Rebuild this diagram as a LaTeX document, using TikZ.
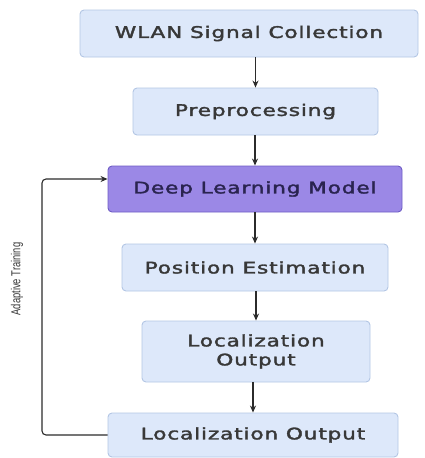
\documentclass[tikz,border=0pt]{standalone}
\usepackage{fontspec}
\usepackage{graphicx}
\newfontfamily\boxfont[FakeBold=1.8,LetterSpace=4]{DejaVu Sans}
\newfontfamily\labelfont{Liberation Sans}
\usetikzlibrary{arrows.meta,calc}
\newcommand\wtxt[1]{\scalebox{1.35}[1]{#1}}
\definecolor{boxfill}{HTML}{DDE8FA}
\definecolor{boxline}{HTML}{B3C6E4}
\definecolor{purpfill}{HTML}{9B88E6}
\definecolor{purpline}{HTML}{6E5CC4}
\definecolor{txt}{HTML}{383838}
\definecolor{purptxt}{HTML}{2A2450}
\definecolor{arr}{HTML}{2B2B2B}
\tikzset{
  stagebox/.style={draw=boxline, fill=boxfill, line width=0.9pt, rounded corners=4pt,
    inner sep=0pt, align=center, text=txt, font=\boxfont\fontsize{16}{19}\selectfont},
  keybox/.style={stagebox, draw=purpline, fill=purpfill, text=purptxt},
  flow/.style={draw=arr, line width=1.1pt, -{Stealth[length=7pt,width=6pt]}}
}
\begin{document}
\begin{tikzpicture}[x=1pt,y=-1pt]
\useasboundingbox (0,0) rectangle (425,458);
\node[stagebox, minimum width=338pt, minimum height=47pt] (b1) at (249,33.5) {\wtxt{WLAN Signal Collection}};
\node[stagebox, minimum width=245pt, minimum height=47pt] (b2) at (255.5,111.5) {\wtxt{Preprocessing}};
\node[keybox, minimum width=294pt, minimum height=46pt] (b3) at (255,189) {\wtxt{Deep Learning Model}};
\node[stagebox, minimum width=266pt, minimum height=47pt] (b4) at (255,267.5) {\wtxt{Position Estimation}};
\node[stagebox, minimum width=228pt, minimum height=61pt] (b5) at (256,351.5) {\wtxt{Localization}\\\wtxt{Output}};
\node[stagebox, minimum width=290pt, minimum height=44pt] (b6) at (253,435) {\wtxt{Localization Output}};
\draw[flow] (b1.south -| b2.north) -- (b2.north);
\draw[flow] (b2.south -| b3.north) -- (b3.north);
\draw[flow] (b3.south -| b4.north) -- (b4.north);
\draw[flow] (b4.south -| b5.north) -- (b5.north);
\draw[flow] (b5.south -| b6.north) -- (b6.north);
\coordinate (fb) at (42,435);
\coordinate (ft) at (42,179);
\draw[flow, rounded corners=4pt] (b6.west) -- (fb) -- (ft) -- (ft -| b3.west);
\node[rotate=90, text=txt, font=\labelfont\fontsize{13}{15}\selectfont] (lbl) at (17,279) {\scalebox{0.72}[1]{Adaptive Training}};
\end{tikzpicture}
\end{document}
